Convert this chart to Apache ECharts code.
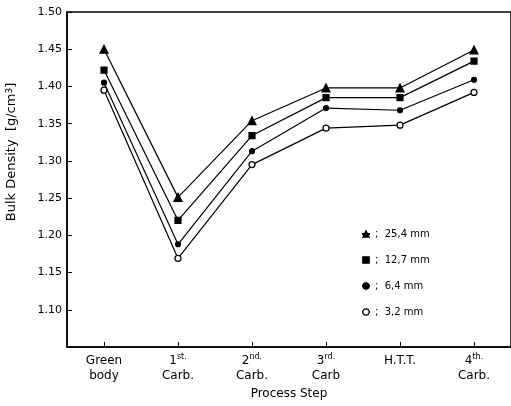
<!DOCTYPE html>
<html><head><meta charset="utf-8">
<script src="https://cdn.jsdelivr.net/npm/echarts@6/dist/echarts.min.js"></script>
<style>html,body{margin:0;padding:0;background:#fff;overflow:hidden}#c{width:511px;height:406px}</style>
</head><body><div id="c"></div>
<script>
const categories = ['Green\nbody', '1{s|st.}\nCarb.', '2{s|nd.}\nCarb.', '3{s|rd.}\nCarb', 'H.T.T.', '4{s|th.}\nCarb.'];
const seriesNames = ['25,4 mm', '12,7 mm', '6,4 mm', '3,2 mm'];
const d254 = [1.450, 1.251, 1.354, 1.398, 1.398, 1.449];
const d127 = [1.422, 1.220, 1.334, 1.385, 1.385, 1.434];
const d64  = [1.405, 1.188, 1.313, 1.371, 1.368, 1.409];
const d32  = [1.395, 1.169, 1.295, 1.344, 1.348, 1.392];
const yMin = 1.05, yMax = 1.50, yStep = 0.05;

const FONT = 'DejaVu Sans';
const chart = echarts.init(document.getElementById('c'), null, {renderer: 'canvas'});
const mk = (name, data, symbol, size, fill) => ({
  name, type: 'line', data, symbol, symbolSize: size,
  itemStyle: {color: fill, borderColor: '#000', borderWidth: 1.2},
  lineStyle: {color: '#000', width: 1.2},
  emphasis: {disabled: true}, animation: false
});
chart.setOption({
  animation: false,
  backgroundColor: '#fff',
  grid: {left: 67, right: -3, top: 12, bottom: 59, containLabel: false,
         show: true, borderColor: '#000', borderWidth: 1.5, backgroundColor: 'transparent'},
  legend: {
    orient: 'vertical', left: 356, top: 224, itemWidth: 8, itemHeight: 8, itemGap: 16,
    formatter: n => ';  ' + n,
    textStyle: {fontFamily: FONT, fontSize: 10, color: '#000'},
    data: seriesNames.map(n => ({name: n, itemStyle: {borderColor: '#000', borderWidth: 1.2}}))
  },
  xAxis: {
    type: 'category', data: categories, boundaryGap: true,
    axisLine: {lineStyle: {color: '#000', width: 1.5}},
    axisTick: {show: true, inside: true, alignWithLabel: true, length: 5, lineStyle: {color: '#000', width: 1}},
    splitLine: {show: false},
    axisLabel: {
      interval: 0, margin: 6, color: '#000', fontFamily: FONT, fontSize: 12, lineHeight: 15,
      rich: {s: {fontSize: 8, verticalAlign: 'top', fontFamily: FONT, color: '#000', lineHeight: 15, padding: [0, 0, 4, 0]}}
    },
    name: 'Process Step', nameLocation: 'middle', nameGap: 36,
    nameTextStyle: {color: '#000', fontFamily: FONT, fontSize: 12}
  },
  yAxis: {
    type: 'value', min: yMin, max: yMax, interval: yStep,
    axisLine: {show: true, lineStyle: {color: '#000', width: 1.5}},
    axisTick: {show: true, inside: true, length: 5, lineStyle: {color: '#000'}},
    splitLine: {show: false},
    axisLabel: {
      margin: 5, color: '#000', fontFamily: FONT, fontSize: 11,
      formatter: v => (v < yMin + yStep / 2 ? '' : v.toFixed(2))
    }
  },
  graphic: [{
    type: 'text', x: 12, y: 152, rotation: Math.PI / 2,
    style: {
      text: 'Bulk Density  [g/cm{p|3}]',
      rich: {p: {fontSize: 9, verticalAlign: 'top', fontFamily: FONT, fill: '#000'}},
      font: '13px "DejaVu Sans"', fill: '#000', align: 'center', verticalAlign: 'middle'
    }
  }],
  series: [
    mk(seriesNames[0], d254, 'triangle', 8, '#000'),
    mk(seriesNames[1], d127, 'rect', 6, '#000'),
    mk(seriesNames[2], d64, 'circle', 5, '#000'),
    mk(seriesNames[3], d32, 'circle', 6, '#fff')
  ]
});
</script></body></html>
